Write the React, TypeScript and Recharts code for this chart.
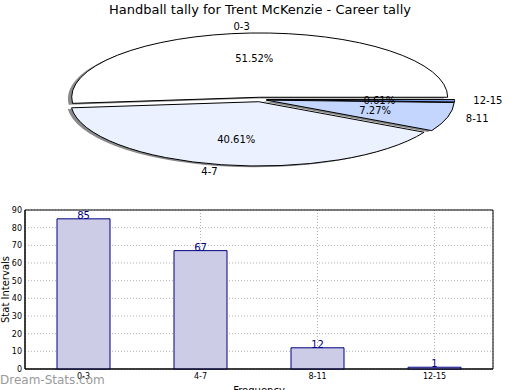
import { PieChart, Pie, Cell, BarChart, Bar, XAxis, YAxis, CartesianGrid, LabelList, Label, ReferenceArea } from "recharts";

// Handball tally – squashed (elliptical) exploded pie with shadow, plus a bar chart below.

const categories = ["0-3", "4-7", "8-11", "12-15"];
const tallies = [85, 67, 12, 1];
const pieFills = ["#FFFFFF", "#EBF1FE", "#C4D6FE", "#7E9FEF"];
const yTicks = [0, 10, 20, 30, 40, 50, 60, 70, 80, 90];

const FONT = "'DejaVu Sans', sans-serif";

// pie geometry: drawn as a circle, then each sector path squashed vertically by K
const R = 188;
const CX = 260;
const K = 0.342;
const CY = 99.5 / K;
const EXPLODE = 0.035;
const SHADOW = 0.02;

const total = tallies.reduce((a, b) => a + b, 0);
const pieData = categories.map((name, i) => ({ name, value: tallies[i] }));

const midAngles = tallies.map((v, i) => {
  const before = tallies.slice(0, i).reduce((a, b) => a + b, 0);
  return (360 * (before + v / 2)) / total;
});

const centers = midAngles.map((m) => {
  const rad = (m * Math.PI) / 180;
  return { x: CX + EXPLODE * R * Math.cos(rad), y: CY - EXPLODE * R * Math.sin(rad) };
});

const barData = categories.map((name, i) => ({ name, value: tallies[i] }));

function makeLabel(i: number) {
  return (props: any) => {
    if (props.index !== i) return null;
    const rad = (midAngles[i] * Math.PI) / 180;
    const c = centers[i];
    const cos = Math.cos(rad);
    const sin = Math.sin(rad);
    const lx = c.x + 1.1 * R * cos;
    const ly = K * (c.y - 1.1 * R * sin);
    const px = c.x + 0.6 * R * cos;
    const py = K * (c.y - 0.6 * R * sin);
    const pct = ((tallies[i] / total) * 100).toFixed(2) + "%";
    return (
      <g>
        <text x={lx} y={ly} textAnchor={cos > 0 ? "start" : "end"} dominantBaseline="central" fontSize={10} fontFamily={FONT} fill="#000">
          {categories[i]}
        </text>
        <text x={px} y={py} textAnchor="middle" dominantBaseline="central" fontSize={10} fontFamily={FONT} fill="#000">
          {pct}
        </text>
      </g>
    );
  };
}

function YLabel(props: any) {
  const vb = props.viewBox || { x: 0, y: 210, width: 25, height: 159 };
  const x = 5;
  const y = vb.y + vb.height / 2;
  return (
    <text x={x} y={y} transform={`rotate(-90, ${x}, ${y})`} textAnchor="middle" dominantBaseline="central" fontSize={10} fontFamily={FONT} fill="#000">
      Stat Intervals
    </text>
  );
}

function XLabel(props: any) {
  const vb = props.viewBox || { x: 25, y: 369, width: 468, height: 21 };
  return (
    <text x={vb.x + vb.width / 2} y={394} textAnchor="middle" fontSize={10} fontFamily={FONT} fill="#000">
      Frequency
    </text>
  );
}

export default function App() {
  return (
    <div style={{ position: "absolute", left: 0, top: 0, width: 520, height: 390, background: "#fff", fontFamily: FONT, overflow: "hidden" }}>
      <style>{`.pie-squash path.recharts-sector{transform:scale(1,${K});transform-origin:0 0;vector-effect:non-scaling-stroke;}`}</style>

      <div style={{ position: "absolute", left: 0, top: 2, width: 520, textAlign: "center", fontSize: 13, lineHeight: "15px", color: "#000" }}>
        Handball tally for Trent McKenzie - Career tally
      </div>

      <div className="pie-squash" style={{ position: "absolute", left: 0, top: 0 }}>
        <PieChart width={520} height={195} margin={{ top: 0, right: 0, bottom: 0, left: 0 }}>
          {categories.map((_, i) => (
            <Pie
              key={"s" + i}
              data={pieData}
              dataKey="value"
              nameKey="name"
              cx={centers[i].x - SHADOW * R}
              cy={centers[i].y + SHADOW * R}
              outerRadius={R}
              startAngle={0}
              endAngle={360}
              isAnimationActive={false}
              labelLine={false}
            >
              {pieData.map((_, j) => (
                <Cell key={j} fill={j === i ? "#8a8a8a" : "none"} stroke="none" />
              ))}
            </Pie>
          ))}
          {categories.map((_, i) => (
            <Pie
              key={"w" + i}
              data={pieData}
              dataKey="value"
              nameKey="name"
              cx={centers[i].x}
              cy={centers[i].y}
              outerRadius={R}
              startAngle={0}
              endAngle={360}
              isAnimationActive={false}
              labelLine={false}
              label={makeLabel(i)}
            >
              {pieData.map((_, j) => (
                <Cell key={j} fill={j === i ? pieFills[j] : "none"} stroke={j === i ? "#000" : "none"} strokeWidth={1} />
              ))}
            </Pie>
          ))}
        </PieChart>
      </div>

      <div style={{ position: "absolute", left: 0, top: 0 }}>
        <BarChart width={520} height={390} data={barData} margin={{ top: 210, right: 27, bottom: 0, left: 0 }}>
          <CartesianGrid stroke="#b0b0b0" strokeDasharray="1 2" />
          <XAxis
            dataKey="name"
            height={21}
            interval={0}
            tickLine={false}
            tickSize={3}
            tickMargin={1}
            axisLine={{ stroke: "#000" }}
            tick={{ fontSize: 8, fill: "#000", fontFamily: FONT }}
          >
            <Label content={XLabel} />
          </XAxis>
          <YAxis
            width={25}
            domain={[0, 90]}
            ticks={yTicks}
            interval={0}
            tickLine={false}
            tickSize={3}
            tickMargin={0}
            axisLine={{ stroke: "#000" }}
            tick={{ fontSize: 8, fill: "#000", fontFamily: FONT }}
          >
            <Label content={YLabel} />
          </YAxis>
          <ReferenceArea y1={0} y2={90} fill="none" fillOpacity={0} stroke="#000" strokeWidth={1} ifOverflow="visible" />
          <Bar dataKey="value" fill="#CCCCE6" stroke="#000080" strokeWidth={1} barSize={53} isAnimationActive={false}>
            <LabelList dataKey="value" position="top" offset={0} fill="#000080" fontSize={10} fontFamily={FONT} />
          </Bar>
        </BarChart>
      </div>

      <div style={{ position: "absolute", left: 0, top: 373, fontSize: 12, lineHeight: "14px", color: "#9a9a9a" }}>
        Dream-Stats.com
      </div>
    </div>
  );
}
